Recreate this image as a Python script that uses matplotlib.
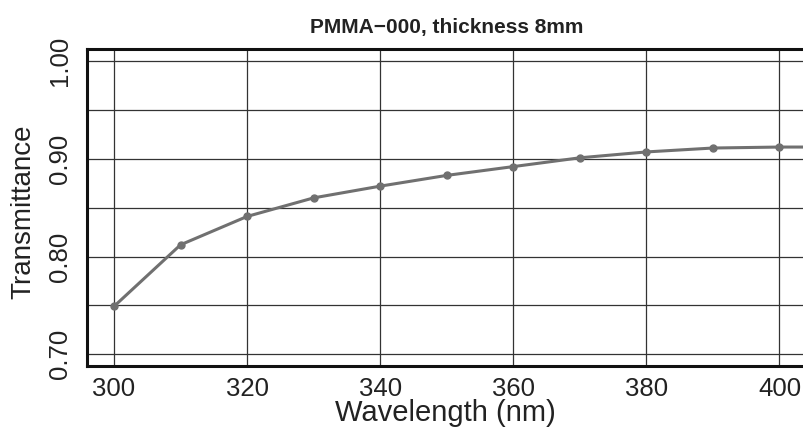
import numpy as np
import matplotlib
matplotlib.use("Agg")
import matplotlib.pyplot as plt

# transmittance of PMMA-000, 8 mm thick
wavelength = [300, 310, 320, 330, 340, 350, 360, 370, 380, 390, 400, 410]
transmittance = [0.749, 0.812, 0.841, 0.860, 0.872, 0.883, 0.892, 0.901,
                 0.907, 0.911, 0.912, 0.912]

x_ticks = [300, 320, 340, 360, 380, 400]
y_ticks = [0.70, 0.80, 0.90, 1.00]
y_grid = [0.70, 0.75, 0.80, 0.85, 0.90, 0.95, 1.00]

plt.rcParams['font.family'] = ['Liberation Sans', 'DejaVu Sans']

W, H = 804, 434
fig = plt.figure(figsize=(W / 100, H / 100), dpi=100)
fig.patch.set_facecolor('white')

# axes box runs a little past the right edge of the picture
ax = fig.add_axes([87.4 / W, (H - 366) / H, (806.1 - 87.4) / W, (366 - 49.3) / H])

ax.set_xlim(296, 404)
ax.set_ylim(0.688, 1.012)

ax.set_xticks(x_ticks)
ax.set_yticks(y_ticks)
ax.set_yticks(y_grid, minor=True)
ax.set_yticklabels(['%.2f' % v for v in y_ticks], rotation=90, va='center')

ax.grid(True, which='major', axis='x', color='#333333', lw=0.9)
ax.grid(True, which='both', axis='y', color='#333333', lw=0.9)
ax.set_axisbelow(True)

ax.tick_params(axis='both', which='both', length=0, labelsize=18.5, colors='#222222')
ax.tick_params(axis='x', pad=8)
ax.tick_params(axis='y', pad=11)

for side in ['left', 'bottom', 'top']:
    ax.spines[side].set_linewidth(2.2)
    ax.spines[side].set_color('#111111')
ax.spines['right'].set_visible(False)

ax.plot(wavelength, transmittance, color='#707070', lw=2.2,
        marker='o', markersize=5, markerfacecolor='#707070',
        markeredgecolor='#707070', clip_on=True)

ax.set_title('PMMA\u2212000, thickness 8mm', fontsize=15, fontweight='bold',
             color='#222222', pad=12)

fig.text(445 / W, (H - 421) / H, 'Wavelength (nm)', fontsize=21,
         ha='center', va='baseline', color='#222222')
fig.text(23 / W, (H - 212) / H, 'Transmittance', fontsize=20, rotation=90,
         ha='center', va='center', color='#222222')

fig.savefig('out.png', dpi=100)
